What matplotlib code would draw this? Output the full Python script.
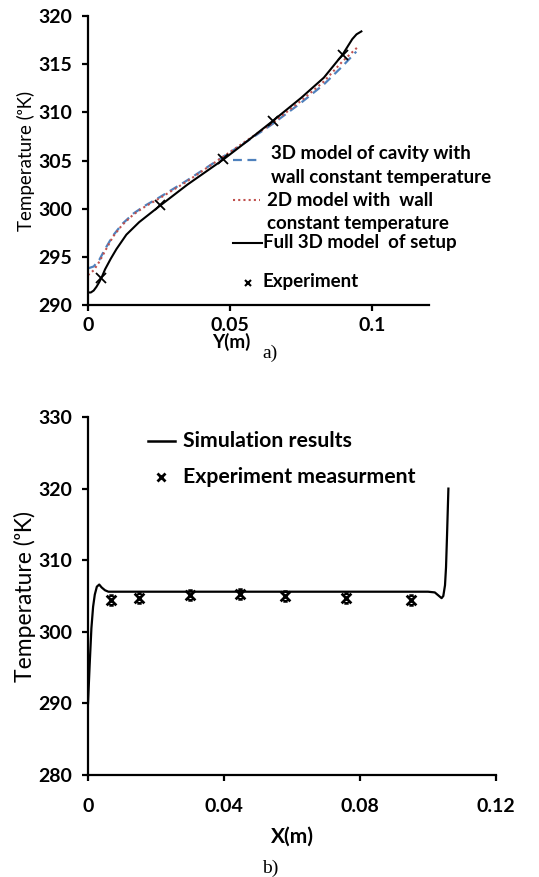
import matplotlib
matplotlib.use('Agg')
import matplotlib.pyplot as plt
from matplotlib.lines import Line2D
from matplotlib.path import Path

plt.rcParams['font.family'] = ['Lato', 'DejaVu Sans']
plt.rcParams['font.weight'] = 'bold'

# a) temperature along Y
y_full = [0.0, 0.001, 0.002, 0.003, 0.004, 0.005, 0.006, 0.008, 0.010, 0.0135,
          0.018, 0.0253, 0.035, 0.0476, 0.056, 0.065, 0.075, 0.083, 0.0896,
          0.093, 0.0945, 0.0962]
t_full = [291.3, 291.3, 291.5, 291.9, 292.4, 293.0, 293.7, 294.8, 295.8, 297.3,
          298.6, 300.3, 302.5, 305.1, 307.0, 309.1, 311.5, 313.6, 316.0,
          317.6, 318.1, 318.4]

y_cav3d = [0.0, 0.002, 0.004, 0.006, 0.0088, 0.012, 0.016, 0.020, 0.0253, 0.0347,
           0.0476, 0.056, 0.065, 0.075, 0.083, 0.0896, 0.0944]
t_cav3d = [293.8, 294.0, 294.7, 295.8, 297.2, 298.4, 299.5, 300.3, 301.2, 302.9,
           305.4, 307.0, 308.8, 311.0, 312.9, 314.8, 316.3]

y_2d = [0.0, 0.002, 0.004, 0.006, 0.0088, 0.012, 0.016, 0.020, 0.0253, 0.0347,
        0.0476, 0.056, 0.065, 0.075, 0.083, 0.0896, 0.095]
t_2d = [293.1, 293.6, 294.5, 295.6, 297.1, 298.3, 299.4, 300.2, 301.1, 302.8,
        305.4, 307.1, 308.9, 311.2, 313.2, 315.3, 316.8]

y_exp = [0.0047, 0.0253, 0.0476, 0.065, 0.0896]
t_exp_a = [292.8, 300.4, 305.2, 309.1, 316.0]

# b) temperature along X
x_sim = [0.0, 0.0005, 0.001, 0.0015, 0.002, 0.0026, 0.0033, 0.004, 0.005, 0.006,
         0.02, 0.04, 0.06, 0.08, 0.095, 0.1, 0.102, 0.103, 0.104, 0.1045,
         0.105, 0.1053, 0.1056, 0.106]
t_sim = [290.0, 295.5, 300.5, 303.5, 305.2, 306.3, 306.6, 306.2, 305.8, 305.6,
         305.6, 305.6, 305.6, 305.6, 305.6, 305.6, 305.5, 305.1, 304.7, 305.0,
         306.5, 309.0, 313.5, 320.0]

x_exp = [0.0068, 0.015, 0.030, 0.0447, 0.058, 0.076, 0.095]
t_exp_b = [304.4, 304.7, 305.1, 305.3, 305.0, 304.7, 304.5]

# x with short bars on top and bottom
barred_x = Path([(-1, -1), (1, 1), (-1, 1), (1, -1),
                 (-0.45, 1), (0.45, 1), (-0.45, -1), (0.45, -1)],
                [Path.MOVETO, Path.LINETO] * 4)
ylab = 'Temperature (\u1d52K)'

fig = plt.figure(figsize=(5.39, 8.77), dpi=100)
W, H = 539.0, 877.0


def fx(px):
    return px / W


def fy(py):
    return 1 - py / H


def style_axes(ax):
    for s in ('top', 'right'):
        ax.spines[s].set_visible(False)
    for s in ('left', 'bottom'):
        ax.spines[s].set_linewidth(1.6)
    ax.tick_params(direction='out', length=4.5, width=1.6, labelsize=14, pad=7)


# ---- a)
ax1 = fig.add_axes([fx(88), fy(305), fx(341), 289 / H])
ax1.plot(y_cav3d, t_cav3d, color='#4F81BD', lw=1.6, ls=(0, (4, 2.5)))
ax1.plot(y_2d, t_2d, color='#C0504D', lw=1.5, ls=(0, (1, 1.5)))
ax1.plot(y_full, t_full, color='black', lw=1.5)
ax1.plot(y_exp, t_exp_a, ls='none', marker='x', ms=7.5, mew=1.3, color='black')
ax1.set_xlim(0, 0.12)
ax1.set_ylim(290, 320)
ax1.set_xticks([0, 0.05, 0.1])
ax1.set_xticklabels(['0', '0.05', '0.1'])
ax1.set_yticks(range(290, 321, 5))
style_axes(ax1)
ax1.tick_params(axis='x', pad=4)
ax1.set_xlabel('Y(m)', fontsize=13.5, fontweight='bold', va='center')
ax1.xaxis.set_label_coords(0.42, -0.128)
ax1.set_ylabel(ylab, fontsize=13.5, fontweight='normal', va='center')
ax1.yaxis.set_label_coords(-0.182, 0.5)

lkw = dict(transform=fig.transFigure)
fig.add_artist(Line2D([fx(233), fx(258)], [fy(160), fy(160)], color='#4F81BD',
                      lw=1.6, ls=(0, (4, 2.5)), **lkw))
fig.add_artist(Line2D([fx(233), fx(260)], [fy(200), fy(200)], color='#C0504D',
                      lw=1.5, ls=(0, (1, 1.5)), **lkw))
fig.add_artist(Line2D([fx(233), fx(262)], [fy(243), fy(243)], color='black',
                      lw=1.5, **lkw))
fig.add_artist(Line2D([fx(248)], [fy(283)], color='black', ls='none',
                      marker='x', ms=5, mew=1.5, **lkw))
tkw = dict(fontsize=13.5, va='center', ha='left')
fig.text(fx(271), fy(153), '3D model of cavity with', **tkw)
fig.text(fx(271), fy(177), 'wall constant temperature', **tkw)
fig.text(fx(267), fy(200), '2D model with  wall', **tkw)
fig.text(fx(267), fy(223), 'constant temperature', **tkw)
fig.text(fx(263), fy(243), 'Full 3D model  of setup', **tkw)
fig.text(fx(262), fy(282), 'Experiment', **tkw)
fig.text(fx(270), fy(353), 'a)', fontsize=14, family='Liberation Serif',
         fontweight='normal', ha='center', va='center')

# ---- b)
ax2 = fig.add_axes([fx(88), fy(775), fx(408), 358 / H])
ax2.plot(x_sim, t_sim, color='black', lw=1.6)
ax2.plot(x_exp, t_exp_b, ls='none', marker=barred_x, ms=7, mew=2.0,
         color='black')
ax2.set_xlim(0, 0.12)
ax2.set_ylim(280, 330)
ax2.set_xticks([0, 0.04, 0.08, 0.12])
ax2.set_xticklabels(['0', '0.04', '0.08', '0.12'])
ax2.set_yticks(range(280, 331, 10))
style_axes(ax2)
ax2.tick_params(axis='x', pad=12)
ax2.set_xlabel('X(m)', fontsize=15, fontweight='bold', va='center')
ax2.xaxis.set_label_coords(0.5, -0.173)
ax2.set_ylabel(ylab, fontsize=16.5, fontweight='normal', va='center')
ax2.yaxis.set_label_coords(-0.154, 0.5)

fig.add_artist(Line2D([fx(148), fx(175)], [fy(441), fy(441)], color='black',
                      lw=1.8, **lkw))
fig.add_artist(Line2D([fx(161)], [fy(477)], color='black', ls='none',
                      marker='x', ms=6, mew=2.0, **lkw))
bkw = dict(fontsize=15.3, va='center', ha='left')
fig.text(fx(183), fy(441), 'Simulation results', **bkw)
fig.text(fx(183), fy(477), 'Experiment measurment', **bkw)
fig.text(fx(270), fy(868), 'b)', fontsize=14, family='Liberation Serif',
         fontweight='normal', ha='center', va='center')

fig.savefig('out.png', dpi=100)
